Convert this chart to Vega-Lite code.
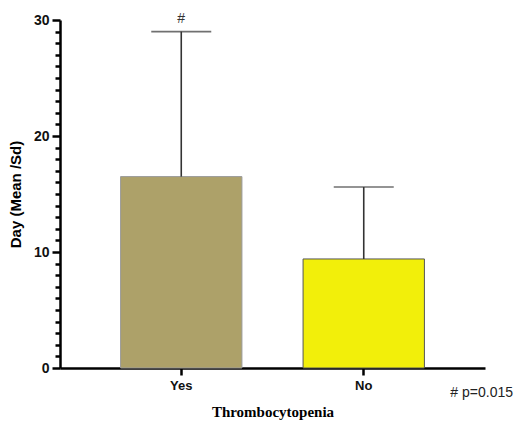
{
  "$schema": "https://vega.github.io/schema/vega-lite/v6.json",
  "autosize": "none",
  "padding": {"left": 60, "top": 20, "right": 30, "bottom": 55},
  "width": 425,
  "height": 348,
  "background": "white",
  "config": {"view": {"stroke": null}},
  "title": {
    "text": "# p=0.015",
    "orient": "bottom",
    "anchor": "end",
    "font": "Liberation Sans",
    "fontSize": 14,
    "fontWeight": "normal",
    "color": "#222",
    "offset": -33,
    "dx": 28
  },
  "data": {
    "values": [
      {"group": "Yes", "mean": 16.5, "upper": 29.0, "sig": "#"},
      {"group": "No", "mean": 9.4, "upper": 15.6, "sig": ""}
    ]
  },
  "encoding": {
    "x": {
      "field": "group",
      "type": "nominal",
      "sort": ["Yes", "No"],
      "scale": {"paddingInner": 0.335, "paddingOuter": 0.332},
      "axis": {
        "title": "Thrombocytopenia",
        "titleFont": "Liberation Serif",
        "titleFontSize": 15,
        "titleFontWeight": "bold",
        "titleColor": "#000",
        "titlePadding": 12,
        "labelAngle": 0,
        "labelFont": "Liberation Sans",
        "labelFontSize": 13,
        "labelFontWeight": "bold",
        "labelColor": "#111",
        "labelPadding": 4,
        "domainColor": "#000",
        "domainWidth": 2.5,
        "tickColor": "#000",
        "tickWidth": 2.5,
        "tickSize": 7
      }
    }
  },
  "layer": [
    {
      "mark": {"type": "bar", "strokeWidth": 1},
      "encoding": {
        "y": {
          "field": "mean",
          "type": "quantitative",
          "scale": {"domain": [0, 30], "nice": false},
          "axis": {
            "title": "Day (Mean /Sd)",
            "titleFont": "Liberation Sans",
            "titleFontSize": 15,
            "titleFontWeight": "bold",
            "titleColor": "#000",
            "titlePadding": 10,
            "values": [0,1,2,3,4,5,6,7,8,9,10,11,12,13,14,15,16,17,18,19,20,21,22,23,24,25,26,27,28,29,30],
            "tickCount": 40,
            "labelExpr": "datum.value % 10 === 0 ? datum.label : ''",
            "labelOverlap": false,
            "labelBound": false,
            "labelFlush": false,
            "labelFont": "Liberation Sans",
            "labelFontSize": 14,
            "labelFontWeight": "bold",
            "labelColor": "#111",
            "labelPadding": 3,
            "grid": false,
            "domainColor": "#000",
            "domainWidth": 2.5,
            "tickColor": "#000",
            "tickWidth": 2.5,
            "tickSize": {"condition": {"test": "datum.value % 10 === 0", "value": 8}, "value": 5}
          }
        },
        "fill": {
          "field": "group",
          "type": "nominal",
          "scale": {"domain": ["Yes", "No"], "range": ["#ada169", "#f2ef0a"]},
          "legend": null
        },
        "stroke": {
          "field": "group",
          "type": "nominal",
          "scale": {"domain": ["Yes", "No"], "range": ["#9a9a9a", "#555555"]},
          "legend": null
        }
      }
    },
    {
      "mark": {"type": "rule", "color": "#333", "strokeWidth": 1.6},
      "encoding": {
        "y": {"field": "mean", "type": "quantitative"},
        "y2": {"field": "upper"}
      }
    },
    {
      "mark": {"type": "tick", "orient": "horizontal", "color": "#333", "thickness": 1.6, "size": 60},
      "encoding": {
        "y": {"field": "upper", "type": "quantitative"}
      }
    },
    {
      "mark": {"type": "text", "font": "Liberation Sans", "fontSize": 14, "color": "#333", "baseline": "bottom", "dy": -6},
      "encoding": {
        "y": {"field": "upper", "type": "quantitative"},
        "text": {"field": "sig"}
      }
    }
  ]
}
